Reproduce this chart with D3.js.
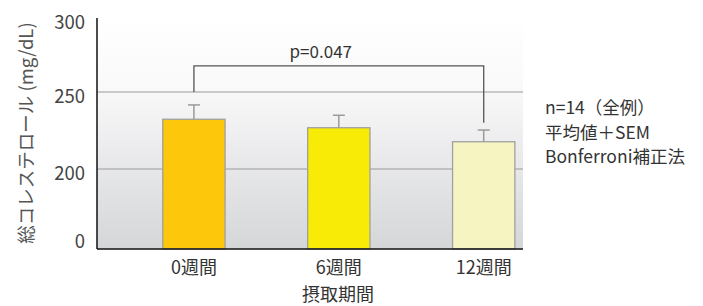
<!DOCTYPE html>
<html>
<head>
<meta charset="utf-8">
<script src="https://cdn.jsdelivr.net/npm/d3@7"></script>
<style>
  body { margin: 0; background: #fff; }
  text { font-family: "Noto Sans CJK JP", "Noto Sans", sans-serif; }
</style>
</head>
<body>
<div id="chart"></div>
<script>
// data
const periods = ['0週間', '6週間', '12週間'];
const means = [232.3, 226.8, 217.7];
const sems = [9.3, 8.1, 7.6];
const barColors = ['#fdc70c', '#f8ec07', '#f6f5c1'];
const yTicks = [0, 200, 250, 300];
const notes = ['n=14（全例）', '平均値＋SEM', 'Bonferroni補正法'];
// significance bracket: 0週間 vs 12週間
const sigPair = ['0週間', '12週間'];
const sigLevels = [267, 250, 230]; // top, left foot, right foot
const sigLabel = 'p=0.047';

const width = 703, height = 306;
const margin = { left: 97, right: 523, bottom: 249, top: 18 };

const svg = d3.select('#chart').append('svg')
  .attr('width', width)
  .attr('height', height)
  .attr('viewBox', [0, 0, width, height]);

// broken axis: 0-200 squeezed into the bottom part
const y = d3.scaleLinear()
  .domain(yTicks)
  .range([margin.bottom, 169, 92, 15]);

const x = d3.scaleBand()
  .domain(periods)
  .range([margin.left, margin.right])
  .paddingInner(0.57)
  .paddingOuter(0.255)
  .align(0.89);

// background gradient
const defs = svg.append('defs');
const grad = defs.append('linearGradient')
  .attr('id', 'bg').attr('x1', 0).attr('y1', 0).attr('x2', 0).attr('y2', 1);
grad.append('stop').attr('offset', '0%').attr('stop-color', '#ffffff');
grad.append('stop').attr('offset', '30%').attr('stop-color', '#f9f9fa');
grad.append('stop').attr('offset', '100%').attr('stop-color', '#d5d6d8');

svg.append('rect')
  .attr('x', margin.left).attr('y', margin.top)
  .attr('width', margin.right - margin.left).attr('height', margin.bottom - margin.top)
  .attr('fill', 'url(#bg)');

// gridlines
svg.append('g')
  .selectAll('line')
  .data([200, 250])
  .join('line')
  .attr('x1', margin.left).attr('x2', margin.right)
  .attr('y1', d => y(d)).attr('y2', d => y(d))
  .attr('stroke', '#9a9a9a')
  .attr('stroke-width', 1);

// bars
svg.append('g')
  .selectAll('rect')
  .data(periods)
  .join('rect')
  .attr('x', d => x(d))
  .attr('y', (d, i) => y(means[i]))
  .attr('width', x.bandwidth())
  .attr('height', (d, i) => y(0) - y(means[i]))
  .attr('fill', (d, i) => barColors[i])
  .attr('stroke', '#a0a0a0')
  .attr('stroke-width', 1.3);

// error bars
const err = svg.append('g').attr('stroke', '#9a9a9a').attr('stroke-width', 1.5);
periods.forEach((p, i) => {
  const cx = x(p) + x.bandwidth() / 2;
  err.append('line')
    .attr('x1', cx).attr('x2', cx)
    .attr('y1', y(means[i])).attr('y2', y(means[i] + sems[i]));
  err.append('line')
    .attr('x1', cx - 6).attr('x2', cx + 6)
    .attr('y1', y(means[i] + sems[i])).attr('y2', y(means[i] + sems[i]));
});

// axes lines
svg.append('line')
  .attr('x1', margin.left).attr('x2', margin.left).attr('y1', margin.top).attr('y2', margin.bottom)
  .attr('stroke', '#111').attr('stroke-width', 1.5);
svg.append('line')
  .attr('x1', margin.left).attr('x2', margin.right).attr('y1', margin.bottom).attr('y2', margin.bottom)
  .attr('stroke', '#111').attr('stroke-width', 1.5);

// y tick labels
svg.append('g')
  .selectAll('text')
  .data(yTicks)
  .join('text')
  .attr('x', 85)
  .attr('y', d => y(d) + (d === 0 ? -7 : d === 300 ? 8 : 5))
  .attr('dy', '0.35em')
  .attr('text-anchor', 'end')
  .attr('fill', '#444')
  .attr('font-size', 18.5)
  .text(d => d);

// x tick labels
svg.append('g')
  .selectAll('text')
  .data(periods)
  .join('text')
  .attr('x', d => x(d) + x.bandwidth() / 2)
  .attr('y', 268)
  .attr('dy', '0.35em')
  .attr('text-anchor', 'middle')
  .attr('fill', '#333')
  .attr('font-size', 18)
  .text(d => d);

svg.append('text')
  .attr('x', 338).attr('y', 295)
  .attr('dy', '0.35em')
  .attr('text-anchor', 'middle')
  .attr('fill', '#333')
  .attr('font-size', 18)
  .text('摂取期間');

svg.append('text')
  .attr('transform', 'translate(27,133) rotate(-90)')
  .attr('dy', '0.35em')
  .attr('text-anchor', 'middle')
  .attr('fill', '#555')
  .attr('font-size', 18.5)
  .text('総コレステロール (mg/dL)');

// significance bracket
const bx0 = x(sigPair[0]) + x.bandwidth() / 2;
const bx1 = x(sigPair[1]) + x.bandwidth() / 2;
svg.append('path')
  .attr('d', d3.line()([
    [bx0, y(sigLevels[1])], [bx0, y(sigLevels[0])],
    [bx1, y(sigLevels[0])], [bx1, y(sigLevels[2])]
  ]))
  .attr('fill', 'none')
  .attr('stroke', '#555')
  .attr('stroke-width', 1.3);

svg.append('text')
  .attr('x', (bx0 + bx1) / 2 - 18).attr('y', 52)
  .attr('dy', '0.35em')
  .attr('text-anchor', 'middle')
  .attr('fill', '#333')
  .attr('font-size', 17)
  .text(sigLabel);

// notes on the right
svg.append('g')
  .selectAll('text')
  .data(notes)
  .join('text')
  .attr('x', 545)
  .attr('y', (d, i) => 108 + i * 24.5)
  .attr('dy', '0.35em')
  .attr('fill', '#333')
  .attr('font-size', 17.5)
  .text(d => d);
</script>
</body>
</html>
